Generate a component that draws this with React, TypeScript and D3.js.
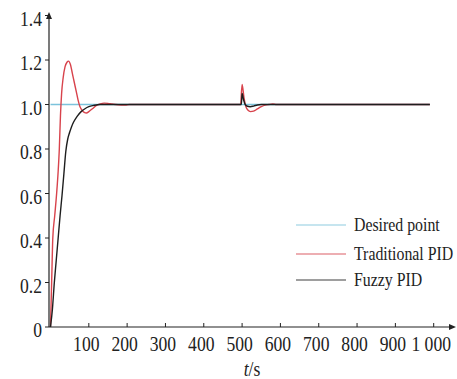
import * as d3 from "d3";

// time (s) and response values
const desiredT = [0, 990];
const desiredY = [1.0, 1.0];

const tradT = [0, 3, 6, 11, 16, 20, 23, 26, 29, 33, 38, 43, 47, 52, 57, 62, 67, 72, 77, 82, 88, 94, 100, 110, 120, 130, 140, 150, 160, 170, 185, 195, 205, 300, 496, 500, 505, 510, 515, 522, 530, 540, 550, 560, 570, 580, 590, 600, 990];
const tradY = [0, 0.2, 0.4, 0.5, 0.6, 0.7, 0.8, 0.95, 1.05, 1.12, 1.17, 1.19, 1.195, 1.18, 1.14, 1.1, 1.06, 1.02, 0.99, 0.975, 0.965, 0.962, 0.968, 0.982, 0.996, 1.003, 1.006, 1.005, 1.002, 1.0, 0.998, 0.997, 1.0, 1.0, 1.0, 1.09, 1.03, 0.99, 0.975, 0.968, 0.97, 0.98, 0.99, 0.997, 1.0, 1.002, 1.0, 1.0, 1.0];

const fuzzyT = [0, 5, 10, 15, 20, 25, 30, 35, 40, 45, 50, 55, 60, 70, 80, 90, 100, 110, 120, 130, 300, 498, 500, 504, 508, 514, 521, 530, 540, 550, 990];
const fuzzyY = [0, 0.08, 0.2, 0.3, 0.4, 0.5, 0.59, 0.69, 0.79, 0.845, 0.875, 0.9, 0.92, 0.948, 0.968, 0.981, 0.99, 0.995, 0.998, 1.0, 1.0, 1.0, 1.05, 1.02, 1.0, 0.992, 0.99, 0.993, 0.998, 1.0, 1.0];

const xTicks = [100, 200, 300, 400, 500, 600, 700, 800, 900, 1000];
const xTickLabels = ["100", "200", "300", "400", "500", "600", "700", "800", "900", "1 000"];
const yTicks = [0, 0.2, 0.4, 0.6, 0.8, 1.0, 1.2, 1.4];
const yTickLabels = ["0", "0.2", "0.4", "0.6", "0.8", "1.0", "1.2", "1.4"];

const legendNames = ["Desired point", "Traditional PID", "Fuzzy PID"];
const colors = ["#7cc3dc", "#d8434c", "#1e1e1e"];

const font = "'Liberation Serif', 'Times New Roman', serif";

export default function App() {
  const width = 457;
  const height = 379;
  const x = d3.scaleLinear().domain([0, 1000]).range([50.5, 433.7]);
  const y = d3.scaleLinear().domain([0, 1]).range([327, 104.5]);

  const axisX0 = 49;
  const axisY0 = 327;

  const line = d3
    .line<[number, number]>()
    .x((d) => x(d[0]))
    .y((d) => y(d[1]))
    .curve(d3.curveMonotoneX);

  const series = [
    desiredT.map((t, i) => [t, desiredY[i]] as [number, number]),
    tradT.map((t, i) => [t, tradY[i]] as [number, number]),
    fuzzyT.map((t, i) => [t, fuzzyY[i]] as [number, number]),
  ];

  const sx = 0.88;

  return (
    <svg
      width={width}
      height={height}
      style={{ position: "absolute", left: 0, top: 0, background: "#fff" }}
      fontFamily={font}
    >
      {/* curves */}
      {series.map((s, i) => (
        <path key={i} d={line(s) || ""} fill="none" stroke={colors[i]} strokeWidth={1.4} />
      ))}

      {/* axes */}
      <line x1={axisX0} y1={axisY0} x2={452} y2={axisY0} stroke="#222" strokeWidth={1.2} />
      <path d={`M456,${axisY0} L449,${axisY0 - 3} L449,${axisY0 + 3} Z`} fill="#222" />
      <line x1={axisX0} y1={axisY0} x2={axisX0} y2={17} stroke="#222" strokeWidth={1.2} />
      <path d={`M${axisX0},12 L${axisX0 - 3},19 L${axisX0 + 3},19 Z`} fill="#222" />

      {xTicks.map((t, i) => (
        <g key={t}>
          <line x1={x(t)} x2={x(t)} y1={axisY0} y2={axisY0 - 4} stroke="#222" strokeWidth={1} />
          <text
            transform={`translate(${x(t) - 2.5},${axisY0 + 24}) scale(${sx},1)`}
            textAnchor="middle"
            fontSize={20}
            fill="#222"
          >
            {xTickLabels[i]}
          </text>
        </g>
      ))}

      {yTicks.map((v, i) => (
        <g key={v}>
          <line x1={axisX0} x2={axisX0 - 4} y1={y(v)} y2={y(v)} stroke="#222" strokeWidth={1} />
          <text
            transform={`translate(42,${y(v) + 10}) scale(${sx},1)`}
            textAnchor="end"
            fontSize={20}
            fill="#222"
          >
            {yTickLabels[i]}
          </text>
        </g>
      ))}

      <text transform={`translate(252,376) scale(${sx},1)`} textAnchor="middle" fontSize={20} fill="#222">
        <tspan fontStyle="italic">t</tspan>/s
      </text>

      {/* legend */}
      {legendNames.map((name, i) => (
        <g key={name} transform={`translate(296,${225 + [0, 29, 55][i]})`}>
          <line x1={0} x2={50} y1={0} y2={0} stroke={colors[i]} strokeWidth={1.2} opacity={0.85} />
          <text transform={`translate(58,6) scale(${sx},1)`} fontSize={18} fill="#222">
            {name}
          </text>
        </g>
      ))}
    </svg>
  );
}
